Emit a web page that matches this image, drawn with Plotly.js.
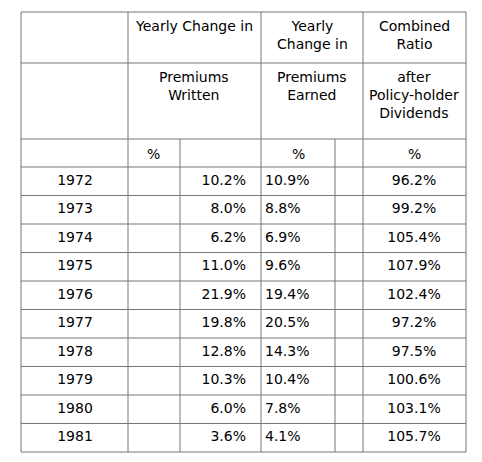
<!DOCTYPE html>
<html><head><meta charset="utf-8">
<script src="https://cdn.plot.ly/plotly-3.0.1.min.js"></script>
<style>body{margin:0}</style></head>
<body><div id="chart" style="width:482px;height:462px"></div>
<script>
var years = ['1972','1973','1974','1975','1976','1977','1978','1979','1980','1981'];
var premiumsWritten = ['10.2%','8.0%','6.2%','11.0%','21.9%','19.8%','12.8%','10.3%','6.0%','3.6%'];
var premiumsEarned = ['10.9%','8.8%','6.9%','9.6%','19.4%','20.5%','14.3%','10.4%','7.8%','4.1%'];
var combinedRatio = ['96.2%','99.2%','105.4%','107.9%','102.4%','97.2%','97.5%','100.6%','103.1%','105.7%'];

var colEdges = [21, 128, 180, 261, 335, 363, 466];
var rowEdges = [12, 63, 139, 167];
for (var i = 1; i <= years.length; i++) rowEdges.push(167 + 28.5 * i);
var rowMid = years.map(function (y, i) { return 167 + 28.5 * (i + 0.5); });

var font = {family: 'DejaVu Sans', size: 14, color: '#000'};
var lc = '#777';
var shapes = [];
rowEdges.forEach(function (y) {
  shapes.push({type: 'line', x0: 21, x1: 466, y0: y, y1: y, line: {color: lc, width: 1}});
});
colEdges.forEach(function (x) {
  var top = (x === 180 || x === 335) ? 139 : 12;
  shapes.push({type: 'line', x0: x, x1: x, y0: top, y1: rowEdges[rowEdges.length - 1], line: {color: lc, width: 1}});
});

var headers = [
  {x: 194, y: 16, text: 'Yearly Change in'},
  {x: 312, y: 16, text: 'Yearly<br>Change in'},
  {x: 414, y: 16, text: 'Combined<br>Ratio'},
  {x: 194, y: 67, text: 'Premiums<br>Written'},
  {x: 312, y: 67, text: 'Premiums<br>Earned'},
  {x: 414, y: 67, text: 'after<br>Policy-holder<br>Dividends'},
  {x: 153, y: 144, text: '%'},
  {x: 298, y: 144, text: '%'},
  {x: 414, y: 144, text: '%'}
];
var annotations = headers.map(function (h) {
  return {x: h.x, y: h.y, text: h.text, showarrow: false, xanchor: 'center', yanchor: 'top',
          font: font, align: 'center'};
});

var traces = [
  {x: years.map(function () { return 75; }), y: rowMid, text: years, textposition: 'middle center'},
  {x: years.map(function () { return 246; }), y: rowMid, text: premiumsWritten, textposition: 'middle left'},
  {x: years.map(function () { return 265; }), y: rowMid, text: premiumsEarned, textposition: 'middle right'},
  {x: years.map(function () { return 414; }), y: rowMid, text: combinedRatio, textposition: 'middle center'}
].map(function (t) {
  t.type = 'scatter'; t.mode = 'text'; t.textfont = font; t.hoverinfo = 'skip';
  return t;
});

var layout = {
  width: 482, height: 462, margin: {l: 0, r: 0, t: 0, b: 0},
  showlegend: false, paper_bgcolor: '#fff', plot_bgcolor: '#fff',
  xaxis: {range: [0, 482], visible: false, fixedrange: true},
  yaxis: {range: [462, 0], visible: false, fixedrange: true},
  shapes: shapes, annotations: annotations
};
Plotly.newPlot('chart', traces, layout, {displayModeBar: false});
</script></body></html>
